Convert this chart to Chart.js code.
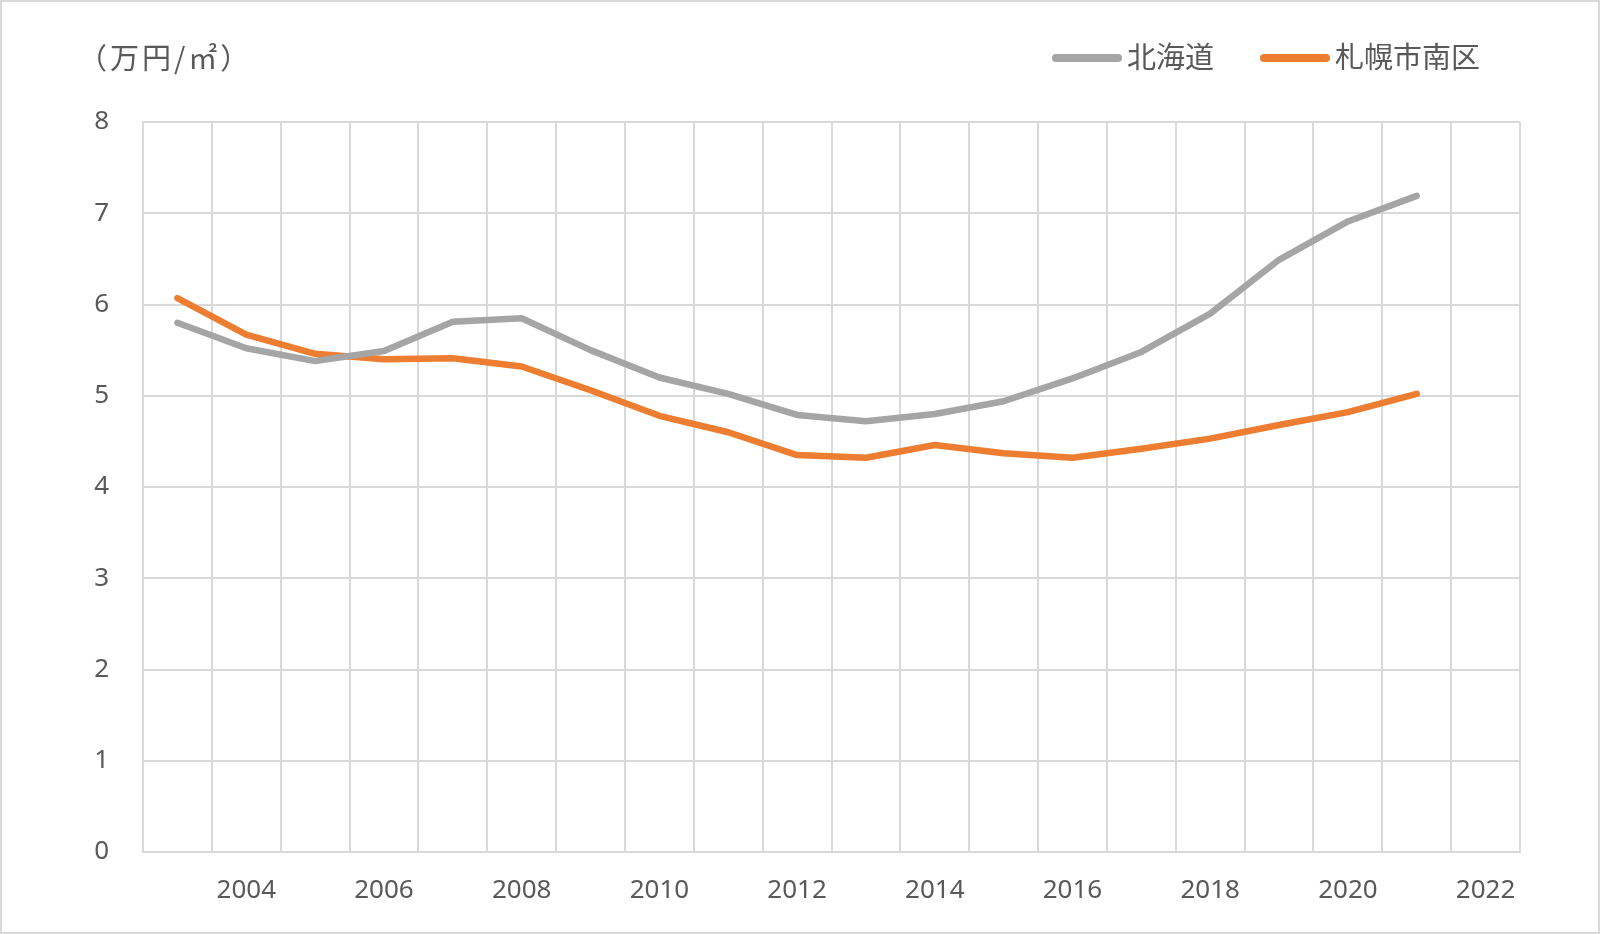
<!DOCTYPE html>
<html>
<head>
<meta charset="utf-8">
<script src="https://cdn.jsdelivr.net/npm/chart.js@4.4.1/dist/chart.umd.min.js"></script>
<style>
html,body{margin:0;padding:0;background:#ffffff;}
#wrap{width:1600px;height:934px;}
</style>
</head>
<body>
<div id="wrap"><canvas id="c" width="1600" height="934"></canvas></div>
<script>
// ---- data ----
const years = ['2003','2004','2005','2006','2007','2008','2009','2010','2011','2012','2013','2014','2015','2016','2017','2018','2019','2020','2021','2022'];
const hokkaido = [5.80,5.52,5.38,5.49,5.81,5.85,5.50,5.20,5.02,4.79,4.72,4.80,4.94,5.19,5.48,5.90,6.49,6.91,7.19];
const minamiku = [6.07,5.67,5.46,5.40,5.41,5.32,5.06,4.78,4.60,4.35,4.32,4.46,4.37,4.32,4.42,4.53,4.68,4.82,5.02];
const seriesNames = ['北海道','札幌市南区'];
const seriesColors = ['#A5A5A5','#ED7D31'];
const unitLabel = '（万円/㎡）';
const yMin = 0, yMax = 8, yStep = 1;

const TEXT = '#595959';
const GRID = '#D9D9D9';

const headerPlugin = {
  id: 'header',
  afterDraw(chart) {
    const ctx = chart.ctx;
    const a = chart.chartArea;
    ctx.save();
    ctx.fillStyle = TEXT;
    ctx.textBaseline = 'middle';
    ctx.textAlign = 'left';
    ctx.font = '29px "Noto Sans CJK JP"';
    ctx.letterSpacing = '3px';
    ctx.fillText(unitLabel, 78, 58);
    ctx.letterSpacing = '0px';
    ctx.font = '29px "Noto Sans CJK JP"';
    let x = a.right - 468;
    chart.data.datasets.forEach(ds => {
      ctx.strokeStyle = ds.borderColor;
      ctx.lineWidth = 8;
      ctx.lineCap = 'round';
      ctx.beginPath();
      ctx.moveTo(x + 4, 58);
      ctx.lineTo(x + 66, 58);
      ctx.stroke();
      x += 75;
      ctx.fillText(ds.label, x, 57);
      x += ctx.measureText(ds.label).width + 46;
    });
    ctx.strokeStyle = GRID;
    ctx.lineWidth = 2;
    ctx.strokeRect(1, 1, chart.width - 2, chart.height - 2);
    ctx.restore();
  }
};

new Chart(document.getElementById('c'), {
  type: 'line',
  data: {
    labels: years,
    datasets: [
      { label: seriesNames[0], data: hokkaido, borderColor: seriesColors[0], backgroundColor: seriesColors[0],
        borderWidth: 6.5, pointRadius: 0, tension: 0, borderCapStyle: 'round', borderJoinStyle: 'round' },
      { label: seriesNames[1], data: minamiku, borderColor: seriesColors[1], backgroundColor: seriesColors[1],
        borderWidth: 6.5, pointRadius: 0, tension: 0, borderCapStyle: 'round', borderJoinStyle: 'round' }
    ]
  },
  options: {
    responsive: false,
    animation: false,
    devicePixelRatio: 1,
    layout: { padding: { top: 122, right: 80, left: 0, bottom: 0 } },
    plugins: { legend: { display: false }, title: { display: false }, tooltip: { enabled: false } },
    scales: {
      x: {
        type: 'category',
        offset: true,
        grid: { offset: true, color: GRID, lineWidth: 2, drawTicks: false },
        border: { color: GRID, width: 2 },
        ticks: {
          autoSkip: false, maxRotation: 0, minRotation: 0, padding: 23,
          color: TEXT, font: { size: 26, family: '"Noto Sans"' },
          callback(v) { const l = this.getLabelForValue(v); return Number(l) % 2 === 0 ? l : ''; }
        },
        afterFit(s) { s.height = 82; }
      },
      y: {
        min: yMin, max: yMax,
        grid: { color: GRID, lineWidth: 2, drawTicks: false },
        border: { color: GRID, width: 2 },
        ticks: { stepSize: yStep, padding: 34, color: TEXT, font: { size: 26, family: '"Noto Sans"' } },
        afterFit(s) { s.width = 143; }
      }
    }
  },
  plugins: [headerPlugin]
});
</script>
</body>
</html>
